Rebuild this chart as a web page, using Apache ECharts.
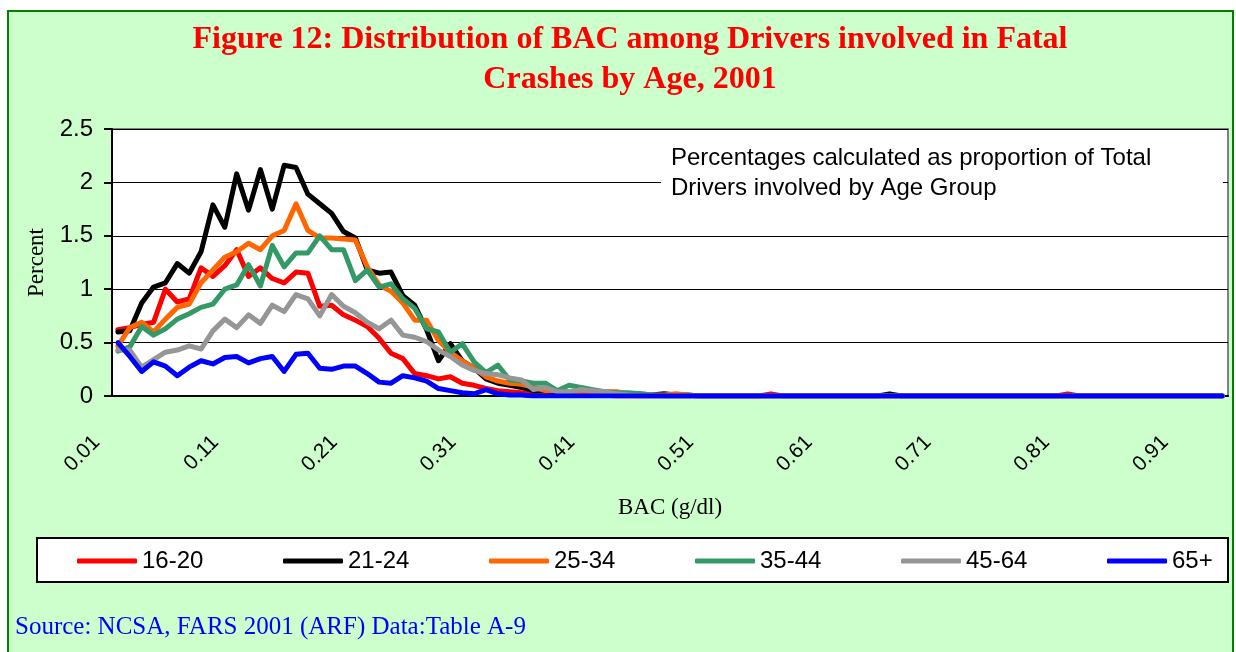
<!DOCTYPE html>
<html>
<head>
<meta charset="utf-8">
<script src="https://cdn.jsdelivr.net/npm/echarts@6/dist/echarts.min.js"></script>
<style>
  html, body { margin: 0; padding: 0; background: #fff; }
  #chart { width: 1236px; height: 652px; }
</style>
</head>
<body>
<div id="chart"></div>
<script>
  // BAC values (g/dl)
  var bac = [
    '0.01','0.02','0.03','0.04','0.05','0.06','0.07','0.08','0.09','0.10',
    '0.11','0.12','0.13','0.14','0.15','0.16','0.17','0.18','0.19','0.20',
    '0.21','0.22','0.23','0.24','0.25','0.26','0.27','0.28','0.29','0.30',
    '0.31','0.32','0.33','0.34','0.35','0.36','0.37','0.38','0.39','0.40',
    '0.41','0.42','0.43','0.44','0.45','0.46','0.47','0.48','0.49','0.50',
    '0.51','0.52','0.53','0.54','0.55','0.56','0.57','0.58','0.59','0.60',
    '0.61','0.62','0.63','0.64','0.65','0.66','0.67','0.68','0.69','0.70',
    '0.71','0.72','0.73','0.74','0.75','0.76','0.77','0.78','0.79','0.80',
    '0.81','0.82','0.83','0.84','0.85','0.86','0.87','0.88','0.89','0.90',
    '0.91','0.92','0.93','0.94'
  ];

  var age16to20 = [
    0.62, 0.64, 0.67, 0.69, 1.00, 0.88, 0.91, 1.20, 1.12, 1.22,
    1.37, 1.12, 1.20, 1.10, 1.06, 1.16, 1.15, 0.84, 0.85, 0.76,
    0.71, 0.65, 0.54, 0.40, 0.35, 0.21, 0.19, 0.16, 0.18, 0.12,
    0.10, 0.07, 0.05, 0.04, 0.03, 0.03, 0.02, 0.02, 0.01, 0.01,
    0.01, 0.01, 0, 0, 0, 0, 0, 0, 0, 0,
    0, 0, 0, 0, 0, 0.02, 0, 0, 0, 0,
    0, 0, 0, 0, 0, 0, 0, 0, 0, 0,
    0, 0, 0, 0, 0, 0, 0, 0, 0, 0,
    0.02, 0, 0, 0, 0, 0, 0, 0, 0, 0,
    0, 0, 0, 0
  ];
  var age21to24 = [
    0.60, 0.61, 0.87, 1.02, 1.06, 1.24, 1.15, 1.35, 1.79, 1.58,
    2.08, 1.74, 2.12, 1.75, 2.16, 2.14, 1.89, 1.80, 1.71, 1.54,
    1.48, 1.18, 1.15, 1.16, 0.94, 0.85, 0.62, 0.33, 0.49, 0.33,
    0.26, 0.16, 0.12, 0.10, 0.08, 0.05, 0.05, 0.03, 0.03, 0.02,
    0.02, 0.02, 0.01, 0.01, 0.01, 0.01, 0.02, 0.01, 0.01, 0,
    0, 0, 0, 0, 0, 0, 0, 0, 0, 0,
    0, 0, 0, 0, 0, 0.02, 0, 0, 0, 0,
    0, 0, 0, 0, 0, 0, 0, 0, 0, 0,
    0, 0, 0, 0, 0, 0, 0, 0, 0, 0,
    0, 0, 0, 0
  ];
  var age25to34 = [
    0.47, 0.64, 0.69, 0.60, 0.72, 0.83, 0.86, 1.06, 1.18, 1.30,
    1.35, 1.43, 1.37, 1.50, 1.55, 1.80, 1.55, 1.48, 1.48, 1.47,
    1.46, 1.21, 1.04, 0.98, 0.87, 0.71, 0.71, 0.52, 0.41, 0.33,
    0.26, 0.18, 0.14, 0.12, 0.11, 0.08, 0.05, 0.05, 0.04, 0.04,
    0.03, 0.04, 0.04, 0.02, 0.02, 0.01, 0.01, 0.02, 0.01, 0,
    0, 0, 0, 0, 0, 0, 0, 0, 0, 0,
    0, 0, 0, 0, 0, 0, 0, 0, 0, 0,
    0, 0, 0, 0, 0, 0, 0, 0, 0, 0,
    0, 0, 0, 0, 0, 0, 0, 0, 0, 0,
    0, 0, 0, 0
  ];
  var age35to44 = [
    0.42, 0.46, 0.65, 0.57, 0.63, 0.72, 0.77, 0.83, 0.86, 1.00,
    1.04, 1.23, 1.03, 1.41, 1.21, 1.34, 1.34, 1.50, 1.37, 1.37,
    1.08, 1.18, 1.02, 1.05, 0.91, 0.82, 0.63, 0.60, 0.41, 0.49,
    0.32, 0.22, 0.29, 0.15, 0.14, 0.12, 0.12, 0.05, 0.10, 0.08,
    0.06, 0.04, 0.03, 0.03, 0.02, 0.01, 0, 0, 0, 0,
    0, 0, 0, 0, 0, 0, 0, 0, 0, 0,
    0, 0, 0, 0, 0, 0, 0, 0, 0, 0,
    0, 0, 0, 0, 0, 0, 0, 0, 0, 0,
    0, 0, 0, 0, 0, 0, 0, 0, 0, 0,
    0, 0, 0, 0
  ];
  var age45to64 = [
    0.43, 0.43, 0.27, 0.34, 0.41, 0.43, 0.47, 0.44, 0.61, 0.72,
    0.64, 0.76, 0.68, 0.85, 0.79, 0.95, 0.91, 0.75, 0.95, 0.84,
    0.78, 0.69, 0.63, 0.71, 0.57, 0.55, 0.51, 0.43, 0.37, 0.29,
    0.24, 0.21, 0.20, 0.17, 0.15, 0.06, 0.08, 0.04, 0.04, 0.06,
    0.05, 0.04, 0.02, 0.01, 0, 0, 0, 0, 0, 0,
    0, 0, 0, 0, 0, 0, 0, 0, 0, 0,
    0, 0, 0, 0, 0, 0, 0, 0, 0, 0,
    0, 0, 0, 0, 0, 0, 0, 0, 0, 0,
    0, 0, 0, 0, 0, 0, 0, 0, 0, 0,
    0, 0, 0, 0
  ];
  var age65plus = [
    0.50, 0.37, 0.23, 0.32, 0.28, 0.19, 0.27, 0.33, 0.30, 0.36,
    0.37, 0.31, 0.35, 0.37, 0.23, 0.39, 0.40, 0.26, 0.25, 0.28,
    0.28, 0.21, 0.13, 0.12, 0.19, 0.17, 0.14, 0.07, 0.05, 0.03,
    0.02, 0.06, 0.02, 0.01, 0.01, 0, 0, 0, 0, 0,
    0, 0, 0, 0, 0, 0, 0, 0, 0, 0,
    0, 0, 0, 0, 0, 0, 0, 0, 0, 0,
    0, 0, 0, 0, 0, 0, 0, 0, 0, 0,
    0, 0, 0, 0, 0, 0, 0, 0, 0, 0,
    0, 0, 0, 0, 0, 0, 0, 0, 0, 0,
    0, 0, 0, 0
  ];

  var groupNames = ['16-20', '21-24', '25-34', '35-44', '45-64', '65+'];
  var groupValues = [age16to20, age21to24, age25to34, age35to44, age45to64, age65plus];
  var groupColors = ['#ff0000', '#000000', '#ff6600', '#339966', '#969696', '#0000ff'];

  var sans = '"Liberation Sans", Arial, sans-serif';
  var serif = '"Liberation Serif", "Times New Roman", serif';

  var chart = echarts.init(document.getElementById('chart'));

  var series = groupNames.map(function (name, i) {
    return {
      name: name,
      type: 'line',
      data: groupValues[i],
      color: groupColors[i],
      symbol: 'none',
      lineStyle: { width: 5, color: groupColors[i], cap: 'round', join: 'round' }
    };
  });

  // one legend per group so the entries sit on an even pitch
  var legends = groupNames.map(function (name, i) {
    return {
      data: [name],
      left: 77 + 206 * i, top: 549, padding: 0,
      itemWidth: 60, itemHeight: 5,
      icon: 'roundRect',
      selectedMode: false,
      textStyle: { fontFamily: sans, fontSize: 24, color: '#000' }
    };
  });

  var option = {
    animation: false,
    graphic: [
      {
        type: 'rect', z: -100,
        shape: { x: 8, y: 11, width: 1225, height: 660 },
        style: { fill: '#ccffcc', stroke: '#008000', lineWidth: 2 }
      },
      {
        type: 'rect', z: -90,
        shape: { x: 37, y: 538, width: 1191, height: 44 },
        style: { fill: '#ffffff', stroke: '#000000', lineWidth: 2 }
      },
      {
        type: 'text', z: 10,
        style: {
          text: 'Figure 12: Distribution of BAC among Drivers involved in Fatal\nCrashes by Age, 2001',
          x: 630, y: 60, align: 'center', verticalAlign: 'middle',
          font: 'bold 32px ' + serif, lineHeight: 40, fill: '#ff0000'
        }
      },
      {
        type: 'text', z: 10,
        style: {
          text: 'Percentages calculated as proportion of Total\nDrivers involved by Age Group',
          x: 661, y: 141, align: 'left', verticalAlign: 'top',
          font: '24px ' + sans, lineHeight: 30, fill: '#000000',
          backgroundColor: '#ffffff', padding: [2, 10, 2, 10], width: 542
        }
      },
      {
        type: 'text', z: 10,
        style: {
          text: 'Source: NCSA, FARS 2001 (ARF) Data:Table A-9',
          x: 15, y: 627, align: 'left', verticalAlign: 'middle',
          font: '25px ' + serif, fill: '#0000ff'
        }
      }
    ],
    grid: {
      left: 112, top: 129, right: 8, bottom: 256,
      show: true, backgroundColor: '#ffffff',
      borderColor: '#808080', borderWidth: 2
    },
    legend: legends,
    xAxis: [
      {
        type: 'category',
        data: bac,
        boundaryGap: true,
        name: 'BAC (g/dl)',
        nameLocation: 'middle',
        nameGap: 100,
        nameTextStyle: { fontFamily: serif, fontSize: 23, color: '#000' },
        axisLine: { lineStyle: { color: '#000', width: 2 } },
        axisTick: { interval: 9, length: 8, lineStyle: { color: '#000', width: 2 } },
        axisLabel: {
          interval: 9, rotate: 45, margin: 22, padding: [0, 30, 0, 0],
          fontFamily: sans, fontSize: 21, color: '#000'
        },
        splitLine: { show: false }
      },
      {
        type: 'category',
        data: bac,
        boundaryGap: true,
        position: 'top',
        offset: -267,
        axisLine: { show: false },
        axisTick: { interval: 9, length: 7, lineStyle: { color: '#000', width: 2 } },
        axisLabel: { show: false },
        splitLine: { show: false }
      }
    ],
    yAxis: {
      type: 'value',
      min: 0, max: 2.5, interval: 0.5,
      name: 'Percent',
      nameLocation: 'middle',
      nameGap: 64,
      nameTextStyle: { fontFamily: serif, fontSize: 23, color: '#000' },
      axisLine: { show: true, lineStyle: { color: '#000', width: 2 } },
      axisTick: { show: true, length: 8, lineStyle: { color: '#000', width: 2 } },
      axisLabel: { margin: 19, fontFamily: sans, fontSize: 24, color: '#000' },
      splitLine: { lineStyle: { color: '#000', width: 1 } }
    },
    series: series
  };

  chart.setOption(option);
</script>
</body>
</html>
